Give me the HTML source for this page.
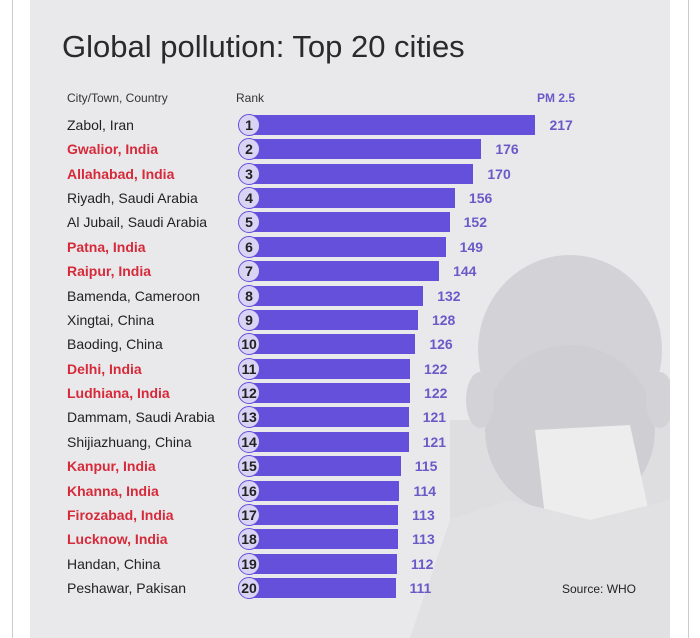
<!DOCTYPE html>
<html><head><style>
body{margin:0;width:700px;height:638px;background:#fff;position:relative;overflow:hidden;font-family:"Liberation Sans",sans-serif}
.vl{position:absolute;top:0;bottom:0;width:1px;background:#ccc}
#card{position:absolute;left:30px;top:0;width:640px;height:638px;background:#e9e9eb;overflow:hidden}
.t{position:absolute;white-space:nowrap}
.row{position:absolute;left:0;height:20px}
.city{position:absolute;left:37px;font-size:14px;color:#222;line-height:20px}
.red{color:#d62a3a;font-weight:bold}
.bar{position:absolute;left:219px;height:20px;background:#6550dc}
.c{position:absolute;left:208px;top:-1px;width:20px;height:20px;border-radius:50%;background:#d9d4f4;border:1px solid #6550dc;font-size:14px;font-weight:bold;color:#222;text-align:center;line-height:20px}
.v{position:absolute;font-size:14px;font-weight:bold;color:#6a5ac8;line-height:20px}
</style></head><body>
<div class="vl" style="left:12px"></div>
<div class="vl" style="left:688px"></div>
<div id="card">
<svg width="640" height="638" style="position:absolute;left:0;top:0">
<rect x="420" y="420" width="220" height="218" fill="#dedee1"/>
<ellipse cx="540" cy="350" rx="92" ry="95" fill="#d3d3d7"/>
<ellipse cx="540" cy="430" rx="85" ry="85" fill="#cfcfd3"/>
<ellipse cx="450" cy="400" rx="14" ry="28" fill="#d3d3d7"/>
<ellipse cx="630" cy="400" rx="14" ry="28" fill="#d3d3d7"/>
<path d="M505 430 L600 425 L625 540 L520 560 Z" fill="#ededee"/>
<path d="M380 638 L420 520 L480 500 L560 520 L640 500 L640 638 Z" fill="#e1e1e3"/>
</svg>
<div class="t" style="left:32px;top:29px;font-size:31px;color:#2a2a2a">Global pollution: Top 20 cities</div>
<div class="t" style="left:37px;top:91px;font-size:12px;color:#333">City/Town, Country</div>
<div class="t" style="left:206px;top:91px;font-size:12px;color:#333">Rank</div>
<div class="t" style="left:507px;top:91px;font-size:12px;color:#6a5ac8;font-weight:bold">PM 2.5</div>
<div id="rows"></div>
<div class="t" style="left:532px;top:582px;font-size:12px;color:#222">Source: WHO</div>
</div>
<script>
var d=[["Zabol, Iran",217,0],["Gwalior, India",176,1],["Allahabad, India",170,1],["Riyadh, Saudi Arabia",156,0],["Al Jubail, Saudi Arabia",152,0],["Patna, India",149,1],["Raipur, India",144,1],["Bamenda, Cameroon",132,0],["Xingtai, China",128,0],["Baoding, China",126,0],["Delhi, India",122,1],["Ludhiana, India",122,1],["Dammam, Saudi Arabia",121,0],["Shijiazhuang, China",121,0],["Kanpur, India",115,1],["Khanna, India",114,1],["Firozabad, India",113,1],["Lucknow, India",113,1],["Handan, China",112,0],["Peshawar, Pakisan",111,0]];
var h="";
d.forEach(function(r,i){var y=115+i*24.37;var e=1.32*r[1];
h+='<div class="row" style="top:'+y+'px;width:640px"><div class="city'+(r[2]?' red':'')+'">'+r[0]+'</div><div class="bar" style="width:'+e+'px"></div><div class="c">'+(i+1)+'</div><div class="v" style="left:'+(219+e+14)+'px">'+r[1]+'</div></div>';});
document.getElementById("rows").innerHTML=h;
</script>
</body></html>
